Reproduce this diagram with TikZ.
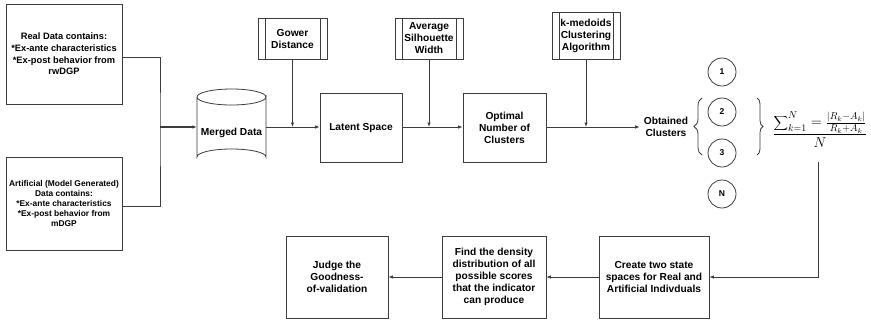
\documentclass[tikz,border=0pt]{standalone}
\usepackage{fontspec}
\setmainfont{Liberation Sans}
\usetikzlibrary{arrows.meta,decorations.pathreplacing}
\newcommand{\lbl}{\fontsize{10.2}{12}\selectfont\bfseries}
\newcommand{\srclbl}{\fontsize{9.3}{11.6}\selectfont\bfseries}
\newcommand{\artlbl}{\fontsize{8.4}{10}\selectfont\bfseries}
\definecolor{linecol}{HTML}{3C3C3C}
\tikzset{
  box/.style={draw=linecol, line width=0.8pt, fill=white, align=center,
    font=\lbl, inner sep=2pt},
  proc/.style={box, path picture={
      \draw[linecol, line width=0.8pt]
        ([xshift=7pt]path picture bounding box.north west) --
        ([xshift=7pt]path picture bounding box.south west)
        ([xshift=-7pt]path picture bounding box.north east) --
        ([xshift=-7pt]path picture bounding box.south east);}},
  conn/.style={draw=linecol, line width=0.8pt},
  arr/.style={conn, -{Latex[length=4.5pt,width=3.5pt]}},
  clus/.style={circle, draw=linecol, line width=0.8pt, minimum size=28pt,
    inner sep=0pt, font=\fontsize{8.5}{10}\selectfont\bfseries},
  brc/.style={conn, decorate, decoration={brace, amplitude=#1}}
}
\begin{document}
\begin{tikzpicture}[x=1pt, y=-1pt]
\useasboundingbox (0,0) rectangle (871,322);

% data sources
\node[box, font=\srclbl, minimum width=116pt, minimum height=100pt] (real) at (64,54)
  {Real Data contains:\\*Ex-ante characteristics\\*Ex-post behavior from\\rwDGP};
\node[box, font=\artlbl, minimum width=116pt, minimum height=93pt] (art) at (64,203.5)
  {Artificial (Model Generated)\\Data contains:\\*Ex-ante characteristics\\*Ex-post behavior from\\mDGP};

% merged data store (cylinder)
\draw[linecol, line width=0.8pt, fill=white]
  (197,97) -- (197,157) arc[start angle=180, end angle=360, x radius=34.5, y radius=8]
  -- (266,97) arc[start angle=0, end angle=180, x radius=34.5, y radius=8];
\draw[linecol, line width=0.8pt] (197,97) arc[start angle=180, end angle=360, x radius=34.5, y radius=8];
\node[minimum width=69pt, minimum height=76pt, inner sep=0pt] (merged) at (231.5,127) {};
\node[font=\lbl] (mergedtxt) at (231.5,133) {Merged Data};

% processing chain
\node[proc, minimum width=69pt, minimum height=41pt] (gower) at (292.5,38.5) {Gower\\Distance};
\node[proc, minimum width=68pt, minimum height=41pt, inner sep=0pt] (avg) at (429,38.5) {Average\\Silhouette\\Width};
\node[proc, minimum width=68pt, minimum height=47pt, inner sep=0pt] (kmed) at (586,35.5) {k-medoids\\Clustering\\Algorithm};
\node[box, minimum width=82pt, minimum height=69pt] (latent) at (361,127.5) {Latent Space};
\node[box, minimum width=83pt, minimum height=69pt] (optimal) at (504.5,127.5) {Optimal\\Number of\\Clusters};
\node[font=\lbl, align=center, inner sep=4pt] (obtained) at (666,127) {Obtained\\Clusters};

% clusters
\node[clus] (c1) at (722,72) {1};
\node[clus] (c2) at (722,112) {2};
\node[clus] (c3) at (722,153) {3};
\node[clus] (cn) at (722,194) {N};
\draw[brc=8pt] (702,155) -- (702,98);
\draw[brc=6pt] (757,98) -- (757,155);

% indicator
\node[inner sep=0pt, font=\fontsize{14}{16}\selectfont] (formula) at (820,130)
  {$\displaystyle\frac{{\displaystyle\sum\nolimits_{k=1}^{N}}=\frac{|R_k-A_k|}{R_k+A_k}}{N}$};

% validation steps
\node[box, minimum width=110pt, minimum height=82pt] (create) at (654,277) {Create two state\\spaces for Real and\\Artificial Indivduals};
\node[box, minimum width=104pt, minimum height=82pt] (find) at (494,277) {Find the density\\distribution of all\\possible scores\\that the indicator\\can produce};
\node[box, minimum width=102pt, minimum height=82pt] (judge) at (337,277) {Judge the\\Goodness-\\of-validation};

% connectors
\coordinate (join) at (160,127);
\draw[conn] (real.east |- 0,57) -| (join) |- (art.east |- 0,206);
\draw[arr, line width=1.1pt] (join) -- (join -| merged.west);
\draw[arr] (join -| merged.east) -- (latent.west |- join);
\draw[arr] (gower.south) -- (gower.south |- join);
\draw[arr] (latent.east |- join) -- (optimal.west |- join);
\draw[arr] (avg.south) -- (avg.south |- join);
\draw[arr] (optimal.east |- join) -- (obtained.west);
\draw[arr] (kmed.south) -- (kmed.south |- join);
\coordinate (fbot) at (818,162);
\draw[arr] (fbot) |- (create.east);
\draw[arr] (create.west) -- (find.east);
\draw[arr] (find.west) -- (judge.east);
\end{tikzpicture}
\end{document}
